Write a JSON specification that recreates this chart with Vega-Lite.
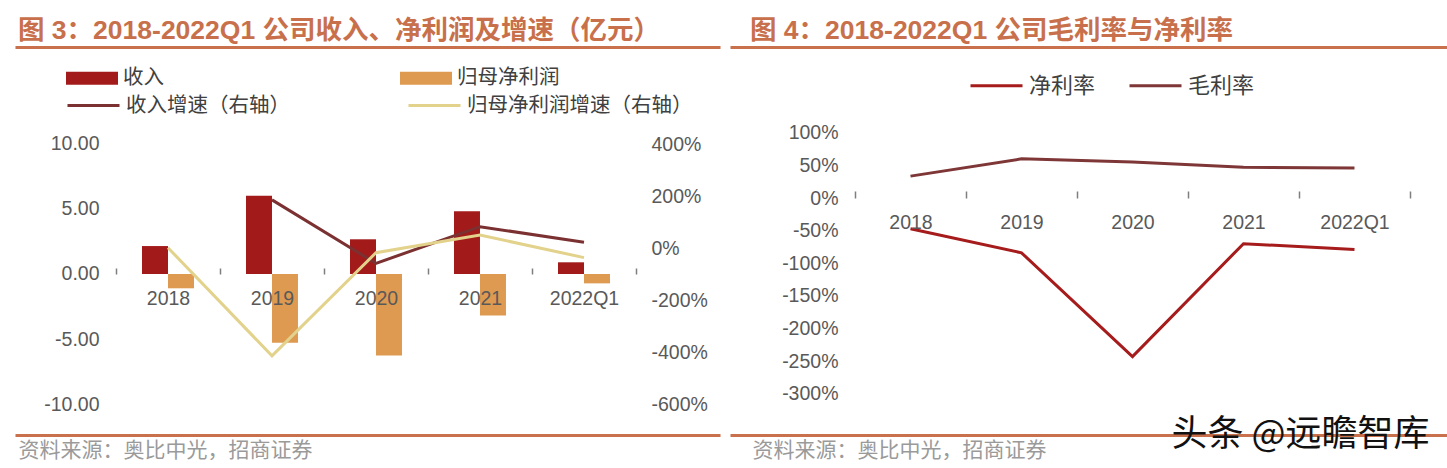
{
  "$schema": "https://vega.github.io/schema/vega-lite/v6.json",
  "padding": {"left": 15, "top": 17, "right": 0, "bottom": 0},
  "spacing": 10,
  "config": {
    "view": {"stroke": null},
    "font": "Liberation Sans, Noto Sans CJK SC",
    "title": {"anchor": "start", "frame": "group", "color": "#C8704B", "fontSize": 26.5, "fontWeight": "bold", "font": "Liberation Sans, Noto Sans CJK SC", "offset": 3},
    "axis": {"labelFont": "Liberation Sans", "labelFontSize": 19.5, "labelColor": "#595959", "grid": false, "ticks": false, "domain": false, "title": null},
    "legend": {"padding": 0, "labelFont": "Noto Sans CJK SC", "labelColor": "#404040", "titlePadding": 0, "labelLimit": 400}
  },
  "datasets": {
    "bars": [
      {"cat": "2018", "series": "收入", "value": 2.15},
      {"cat": "2018", "series": "归母净利润", "value": -1.1},
      {"cat": "2019", "series": "收入", "value": 6.02},
      {"cat": "2019", "series": "归母净利润", "value": -5.28},
      {"cat": "2020", "series": "收入", "value": 2.67},
      {"cat": "2020", "series": "归母净利润", "value": -6.26},
      {"cat": "2021", "series": "收入", "value": 4.82},
      {"cat": "2021", "series": "归母净利润", "value": -3.2},
      {"cat": "2022Q1", "series": "收入", "value": 0.9},
      {"cat": "2022Q1", "series": "归母净利润", "value": -0.72}
    ],
    "growth": [
      {"cat": "2019", "series": "收入增速（右轴）", "value": 1.85},
      {"cat": "2020", "series": "收入增速（右轴）", "value": -0.59},
      {"cat": "2021", "series": "收入增速（右轴）", "value": 0.82},
      {"cat": "2022Q1", "series": "收入增速（右轴）", "value": 0.22},
      {"cat": "2018", "series": "归母净利润增速（右轴）", "value": 0.01},
      {"cat": "2019", "series": "归母净利润增速（右轴）", "value": -4.15},
      {"cat": "2020", "series": "归母净利润增速（右轴）", "value": -0.18},
      {"cat": "2021", "series": "归母净利润增速（右轴）", "value": 0.5},
      {"cat": "2022Q1", "series": "归母净利润增速（右轴）", "value": -0.37}
    ],
    "margins": [
      {"cat": "2018", "series": "毛利率", "value": 0.335},
      {"cat": "2019", "series": "毛利率", "value": 0.6},
      {"cat": "2020", "series": "毛利率", "value": 0.55},
      {"cat": "2021", "series": "毛利率", "value": 0.47},
      {"cat": "2022Q1", "series": "毛利率", "value": 0.46},
      {"cat": "2018", "series": "净利率", "value": -0.47},
      {"cat": "2019", "series": "净利率", "value": -0.84},
      {"cat": "2020", "series": "净利率", "value": -2.43},
      {"cat": "2021", "series": "净利率", "value": -0.7},
      {"cat": "2022Q1", "series": "净利率", "value": -0.79}
    ]
  },
  "resolve": {"scale": {"stroke": "independent", "fill": "independent", "x": "independent", "y": "independent"}},
  "hconcat": [
    {
      "width": 705,
      "height": 388,
      "title": {"text": "图 3：2018-2022Q1 公司收入、净利润及增速（亿元）", "dx": 3},
      "layer": [
        {
          "layer": [
            {
              "data": {"name": "bars"},
              "mark": {"type": "bar"},
              "encoding": {
                "x": {
                  "field": "cat", "type": "nominal", "sort": null,
                  "scale": {"domain": ["2018", "2019", "2020", "2021", "2022Q1"], "paddingInner": 0, "paddingOuter": 0.8894, "align": 0.5459},
                  "axis": {
                    "orient": "bottom", "offset": -161, "labelAngle": 0, "zindex": 1,
                    "domain": false,
                    "ticks": true, "tickBand": "extent", "tickSize": -6, "tickColor": "#7f7f7f", "tickWidth": 1.5,
                    "labelPadding": 21,
                    "title": "资料来源：奥比中光，招商证券",
                    "titleX": 3, "titleY": 176, "titleAlign": "left", "titleBaseline": "middle",
                    "titleFont": "Noto Sans CJK SC", "titleFontSize": 21, "titleFontWeight": "normal", "titleColor": "#9a9a9a"
                  }
                },
                "xOffset": {"field": "series", "type": "nominal", "sort": ["收入", "归母净利润"], "scale": {"paddingInner": 0, "paddingOuter": 1}},
                "y": {
                  "field": "value", "type": "quantitative",
                  "scale": {"domain": [-12.3846, 17.4615], "nice": false, "zero": false},
                  "axis": {
                    "orient": "left", "offset": -88, "labelPadding": 4, "labelOverlap": false,
                    "values": [-12.3846, -10, -5, 0, 5, 10, 17.4615],
                    "labelExpr": "abs(datum.value) > 11 ? '' : (datum.value < 0 ? '-' : '') + format(abs(datum.value), '.2f')",
                    "labelFontSize": {"condition": {"test": "abs(datum.value) > 11", "value": 0}, "value": 19.5},
                    "grid": true, "gridColor": "#C9714C", "gridWidth": 3,
                    "gridOpacity": {"condition": {"test": "abs(datum.value) > 11", "value": 1}, "value": 0}
                  }
                },
                "fill": {
                  "field": "series", "type": "nominal",
                  "scale": {"domain": ["收入", "归母净利润"], "range": ["#A31A1A", "#DF9A52"]},
                  "legend": {
                    "orient": "none", "legendX": 51, "legendY": 5, "direction": "horizontal", "title": null,
                    "symbolType": "M-1,-0.25H1V0.25H-1Z", "symbolSize": 2704, "symbolStrokeWidth": 0, "symbolOpacity": 1,
                    "labelFontSize": 20.5, "labelOffset": 5, "columnPadding": 236
                  }
                }
              }
            },
            {
              "mark": {"type": "rule", "color": "#000000", "strokeWidth": 1.5},
              "encoding": {
                "x": {"datum": "2018", "type": "nominal", "bandPosition": 0},
                "x2": {"datum": "2022Q1", "bandPosition": 1},
                "y": {"datum": 0, "type": "quantitative"}
              }
            }
          ]
        },
        {
          "data": {"name": "growth"},
          "mark": {"type": "line", "strokeWidth": 3},
          "encoding": {
            "x": {"field": "cat", "type": "nominal", "sort": null},
            "y": {
              "field": "value", "type": "quantitative",
              "scale": {"domain": [-7.1923, 7.7308], "nice": false, "zero": false},
              "axis": {
                "orient": "right", "offset": -73, "labelPadding": 4, "labelOverlap": false,
                "values": [-6, -4, -2, 0, 2, 4],
                "labelExpr": "(datum.value < 0 ? '-' : '') + format(abs(datum.value), '.0%')"
              }
            },
            "stroke": {
              "field": "series", "type": "nominal",
              "scale": {"domain": ["收入增速（右轴）", "归母净利润增速（右轴）"], "range": ["#7B3131", "#E2D28C"]},
              "legend": {
                "orient": "none", "legendX": 51, "legendY": 31, "direction": "horizontal", "title": null,
                "symbolType": "stroke", "symbolSize": 2704, "symbolStrokeWidth": 3,
                "labelFontSize": 20.5, "labelOffset": 5, "columnPadding": 112
              }
            }
          }
        }
      ],
      "resolve": {"scale": {"y": "independent"}, "axis": {"y": "independent"}}
    },
    {
      "width": 717,
      "height": 388,
      "title": {"text": "图 4：2018-2022Q1 公司毛利率与净利率", "dx": 20},
      "layer": [
        {
          "data": {"name": "margins"},
          "mark": {"type": "line", "strokeWidth": 3},
          "encoding": {
            "x": {
              "field": "cat", "type": "nominal", "sort": null,
              "scale": {"domain": ["2018", "2019", "2020", "2021", "2022Q1"], "paddingInner": 0, "paddingOuter": 0.7297, "align": 0.7716},
              "axis": {
                "orient": "bottom", "offset": -237, "labelAngle": 0, "zindex": 1,
                "domain": false,
                "ticks": true, "tickBand": "extent", "tickSize": -7, "tickColor": "#7f7f7f", "tickWidth": 1.5,
                "labelPadding": 22,
                "title": "资料来源：奥比中光，招商证券",
                "titleX": 22, "titleY": 252, "titleAlign": "left", "titleBaseline": "middle",
                "titleFont": "Noto Sans CJK SC", "titleFontSize": 21, "titleFontWeight": "normal", "titleColor": "#9a9a9a"
              }
            },
            "y": {
              "field": "value", "type": "quantitative",
              "scale": {"domain": [-3.6322, 2.3142], "nice": false, "zero": false},
              "axis": {
                "orient": "left", "offset": -112, "labelPadding": 4, "labelOverlap": false,
                "values": [-3.6322, -3, -2.5, -2, -1.5, -1, -0.5, 0, 0.5, 1, 2.3142],
                "labelExpr": "(datum.value > 2 || datum.value < -3.2) ? '' : (datum.value < 0 ? '-' : '') + format(abs(datum.value), '.0%')",
                "labelFontSize": {"condition": {"test": "datum.value > 2 || datum.value < -3.2", "value": 0}, "value": 19.5},
                "grid": true, "gridColor": "#C9714C", "gridWidth": 3,
                "gridOpacity": {"condition": {"test": "datum.value > 2 || datum.value < -3.2", "value": 1}, "value": 0},
                "title": "头条 @远瞻智库",
                "titleAngle": 0, "titleX": 458, "titleY": 387, "titleAlign": "center", "titleBaseline": "middle",
                "titleFont": "Noto Sans CJK SC", "titleFontSize": 36, "titleFontWeight": "normal", "titleColor": "#111111"
              }
            },
            "stroke": {
              "field": "series", "type": "nominal",
              "scale": {"domain": ["净利率", "毛利率"], "range": ["#A61B1B", "#7E3636"]},
              "legend": {
                "orient": "none", "legendX": 239, "legendY": 11, "direction": "horizontal", "title": null,
                "symbolType": "stroke", "symbolSize": 2704, "symbolStrokeWidth": 3,
                "labelFontSize": 22, "labelOffset": 5, "columnPadding": 27
              }
            }
          }
        },
        {
          "mark": {"type": "rule", "color": "#000000", "strokeWidth": 1.5},
          "encoding": {
            "x": {"datum": "2018", "type": "nominal", "bandPosition": 0},
            "x2": {"datum": "2022Q1", "bandPosition": 1},
            "y": {"datum": 0, "type": "quantitative", "scale": {"domain": [-3.6322, 2.3142], "nice": false, "zero": false}, "axis": null}
          }
        }
      ],
      "resolve": {"scale": {"y": "independent"}, "axis": {"y": "independent"}}
    }
  ]
}
